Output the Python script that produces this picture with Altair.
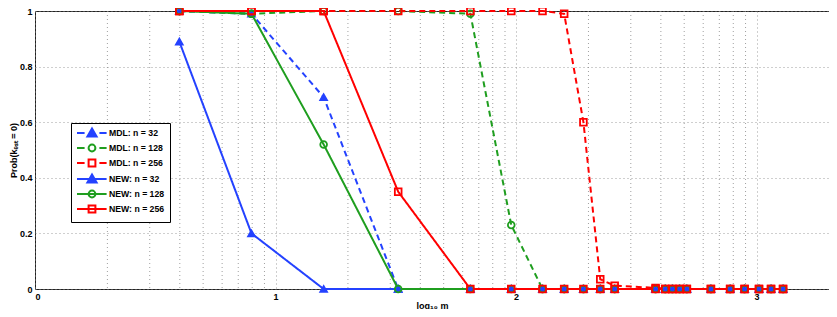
import altair as alt
import pandas as pd

# x positions (log10 m)
x_vals = [0.60, 0.90, 1.20, 1.51, 1.81, 1.98, 2.11, 2.20, 2.28, 2.35, 2.41,
          2.58, 2.62, 2.65, 2.68, 2.71, 2.81, 2.89, 2.95, 3.01, 3.06, 3.11]

mdl_32  = [1.00, 0.99, 0.69, 0.0, 0.0, 0.0, 0.0, 0.0, 0.0, 0.0, 0.0,
           0.0, 0.0, 0.0, 0.0, 0.0, 0.0, 0.0, 0.0, 0.0, 0.0, 0.0]
mdl_128 = [1.00, 0.99, 1.00, 1.00, 0.99, 0.23, 0.0, 0.0, 0.0, 0.0, 0.0,
           0.0, 0.0, 0.0, 0.0, 0.0, 0.0, 0.0, 0.0, 0.0, 0.0, 0.0]
mdl_256 = [1.00, 1.00, 1.00, 1.00, 1.00, 1.00, 1.00, 0.99, 0.60, 0.035, 0.012,
           0.004, 0.0, 0.0, 0.0, 0.0, 0.0, 0.0, 0.0, 0.0, 0.0, 0.0]
new_32  = [0.89, 0.20, 0.0, 0.0, 0.0, 0.0, 0.0, 0.0, 0.0, 0.0, 0.0,
           0.0, 0.0, 0.0, 0.0, 0.0, 0.0, 0.0, 0.0, 0.0, 0.0, 0.0]
new_128 = [1.00, 0.99, 0.52, 0.0, 0.0, 0.0, 0.0, 0.0, 0.0, 0.0, 0.0,
           0.0, 0.0, 0.0, 0.0, 0.0, 0.0, 0.0, 0.0, 0.0, 0.0, 0.0]
new_256 = [1.00, 1.00, 1.00, 0.35, 0.0, 0.0, 0.0, 0.0, 0.0, 0.0, 0.0,
           0.0, 0.0, 0.0, 0.0, 0.0, 0.0, 0.0, 0.0, 0.0, 0.0, 0.0]

series_names = ["MDL: n = 32", "MDL: n = 128", "MDL: n = 256",
                "NEW: n = 32", "NEW: n = 128", "NEW: n = 256"]
series_types = ["MDL", "MDL", "MDL", "NEW", "NEW", "NEW"]
series_values = [mdl_32, mdl_128, mdl_256, new_32, new_128, new_256]
series_colors = ["#2442ff", "#1f9e1f", "#ff0000", "#2442ff", "#1f9e1f", "#ff0000"]
series_shapes = ["triangle-up", "circle", "square", "triangle-up", "circle", "square"]
series_fills = ["#2442ff", "transparent", "transparent", "#2442ff", "transparent", "transparent"]

# axis ticks
x_major_ticks = [0, 1, 2, 3]
x_minor_ticks = [0.301, 0.477, 0.602, 0.699, 0.778, 0.845, 0.903, 0.954,
                 1.301, 1.477, 1.602, 1.699, 1.778, 1.845, 1.903, 1.954,
                 2.301, 2.477, 2.602, 2.699, 2.778, 2.845, 2.903, 2.954]
y_ticks = [0, 0.2, 0.4, 0.6, 0.8, 1.0]

rows = []
for name, typ, vals in zip(series_names, series_types, series_values):
    for xv, yv in zip(x_vals, vals):
        rows.append({"x": xv, "y": yv, "series": name, "type": typ})
df = pd.DataFrame(rows)
minor_df = pd.DataFrame({"x": x_minor_ticks})

# legend symbols: line sample + marker (custom paths, unit = 4px)
tri = "M2.75,-1.15L3.9,0.85L1.6,0.85ZM2.75,-0.45L3.3,0.5L2.2,0.5Z"
sq = "M1.9,-0.85H3.6V0.85H1.9Z"
circ = "M1.9,0A0.85,0.85 0 1 0 3.6,0A0.85,0.85 0 1 0 1.9,0Z"
dash_line = "M-1,0H0.9M4.6,0H6.4"
solid_line = "M-1,0H6.4"
legend_paths = [dash_line + tri, dash_line + circ, dash_line + sq,
                solid_line + tri, solid_line + circ, solid_line + sq]

FONT = "Liberation Sans"
GRID = "#888888"

x_scale = alt.Scale(domain=[0, 3.301], nice=False, zero=False)
x_axis = alt.Axis(values=x_major_ticks, format="d", labelOverlap=False,
                  title="log₁₀ m", grid=True, ticks=False,
                  domain=False, labelPadding=3, titlePadding=0)

minor_grid = alt.Chart(minor_df).mark_rule(
    color=GRID, strokeDash=[1, 3], strokeWidth=1, opacity=0.8
).encode(x=alt.X("x:Q", scale=x_scale, axis=x_axis))

y_enc = alt.Y("y:Q", scale=alt.Scale(domain=[0, 1], nice=False),
              axis=alt.Axis(values=y_ticks, format=".1~f", labelOverlap=False,
                            title="Prob(kₑₛₜ = 0)", grid=True, ticks=False,
                            domain=False, labelPadding=3, titlePadding=1))

lines = alt.Chart(df).mark_line(strokeWidth=2).encode(
    x=alt.X("x:Q", scale=x_scale, axis=x_axis), y=y_enc,
    color=alt.Color("series:N", scale=alt.Scale(domain=series_names, range=series_colors),
                    legend=None),
    strokeDash=alt.StrokeDash("type:N",
                              scale=alt.Scale(domain=["MDL", "NEW"], range=[[6, 4], [1, 0]]),
                              legend=None),
    detail="series:N",
)

points = alt.Chart(df).mark_point(filled=False, strokeWidth=1.8, size=45, opacity=1).encode(
    x="x:Q", y="y:Q",
    color=alt.Color("series:N", scale=alt.Scale(domain=series_names, range=series_colors),
                    legend=None),
    shape=alt.Shape("series:N", scale=alt.Scale(domain=series_names, range=series_shapes),
                    legend=None),
    fill=alt.Fill("series:N", scale=alt.Scale(domain=series_names, range=series_fills),
                  legend=None),
)

leg = alt.Legend(title=None, orient="none", legendX=36, legendY=112,
                 symbolSize=64, labelOffset=23, symbolStrokeWidth=2,
                 labelFont=FONT, labelFontSize=8.7, labelFontWeight="bold",
                 labelColor="black", rowPadding=-1, padding=5,
                 strokeColor="black", fillColor="white", cornerRadius=0)

legend_layer = alt.Chart(df).transform_filter("false").mark_point(
    filled=False, strokeWidth=2, opacity=1
).encode(
    x="x:Q", y="y:Q",
    color=alt.Color("series:N", scale=alt.Scale(domain=series_names, range=series_colors),
                    legend=leg),
    shape=alt.Shape("series:N", scale=alt.Scale(domain=series_names, range=legend_paths),
                    legend=leg),
)

chart = alt.layer(minor_grid, lines, points, legend_layer).resolve_scale(
    color="independent", shape="independent", fill="independent"
).resolve_legend(
    color="independent", shape="independent"
).properties(
    width=794, height=278,
    autosize=alt.AutoSizeParams(type="none"),
    padding={"left": 27, "top": 3, "right": 0, "bottom": 20},
).configure_view(
    stroke="#222222", strokeWidth=1
).configure_axis(
    gridColor=GRID, gridDash=[1, 3], gridWidth=1, gridOpacity=0.8,
    labelFont=FONT, labelFontSize=9, labelFontWeight="bold", labelColor="black",
    titleFont=FONT, titleFontSize=9, titleFontWeight="bold", titleColor="black",
)

chart.save("out.html", embed_options={"renderer": "svg", "actions": False})
